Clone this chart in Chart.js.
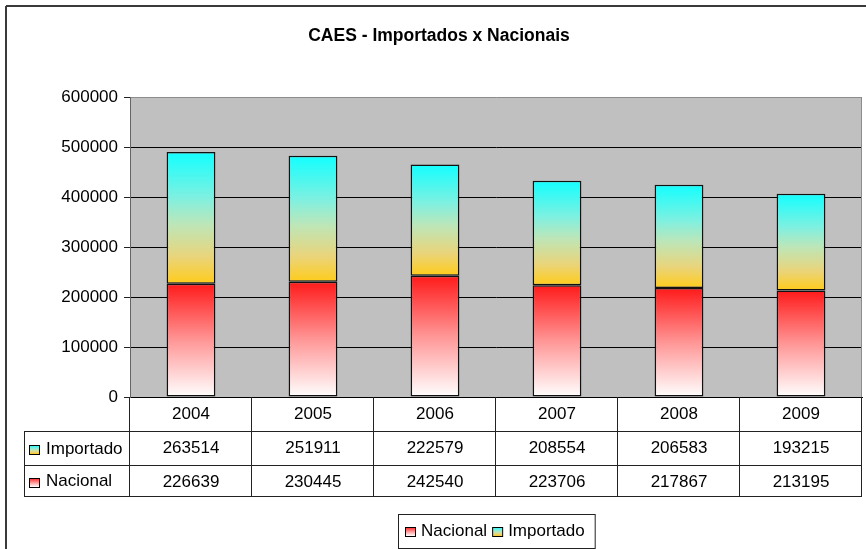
<!DOCTYPE html>
<html>
<head>
<meta charset="utf-8">
<title>CAES - Importados x Nacionais</title>
<script src="https://cdn.jsdelivr.net/npm/chart.js@4/dist/chart.umd.min.js"></script>
<style>
  body { margin: 0; background: #fff; }
  #wrap { width: 866px; height: 549px; }
</style>
</head>
<body>
<div id="wrap"><canvas id="caesChart" width="866" height="549"></canvas></div>
<script>
// dados do grafico
const categories = ['2004', '2005', '2006', '2007', '2008', '2009'];
const nacional = [226639, 230445, 242540, 223706, 217867, 213195];
const importado = [263514, 251911, 222579, 208554, 206583, 193215];
const seriesNames = ['Nacional', 'Importado'];
const yMax = 600000;
const yStep = 100000;

const FONT = '"Liberation Sans", Arial, Helvetica, sans-serif';

// gradientes das barras
function nacionalFill(ctx, top, bottom) {
  const g = ctx.createLinearGradient(0, top, 0, bottom);
  g.addColorStop(0, '#ff1a1a');
  g.addColorStop(0.5, '#ff9696');
  g.addColorStop(1, '#ffffff');
  return g;
}
function importadoFill(ctx, top, bottom) {
  const g = ctx.createLinearGradient(0, top, 0, bottom);
  g.addColorStop(0, '#12ffff');
  g.addColorStop(0.35, '#80f0e0');
  g.addColorStop(0.55, '#bde6b8');
  g.addColorStop(0.8, '#ead47a');
  g.addColorStop(1, '#ffcc1a');
  return g;
}
const fills = [nacionalFill, importadoFill];

function line(ctx, x1, y1, x2, y2) {
  ctx.beginPath();
  ctx.moveTo(x1, y1);
  ctx.lineTo(x2, y2);
  ctx.stroke();
}

// gradiente de uma barra, a partir da escala y
function barFill(c, seriesIndex, fallback) {
  const y = c.chart.scales.y;
  const i = c.dataIndex;
  if (!y || i === undefined) return fallback;
  const base = seriesIndex === 0 ? 0 : nacional[i];
  const end = seriesIndex === 0 ? nacional[i] : nacional[i] + importado[i];
  const top = y.getPixelForValue(end);
  const bottom = y.getPixelForValue(base);
  if (!isFinite(top) || !isFinite(bottom) || top === bottom) return fallback;
  return fills[seriesIndex](c.chart.ctx, top, bottom);
}

// fundo cinza, moldura e tabela de dados / legenda
const caesPlugin = {
  id: 'caes',
  beforeDraw(chart) {
    const ctx = chart.ctx;
    const a = chart.chartArea;
    ctx.save();
    ctx.fillStyle = '#c0c0c0';
    ctx.fillRect(a.left, a.top, a.right - a.left, a.bottom - a.top);
    // moldura externa
    ctx.strokeStyle = '#3a3a3a';
    ctx.lineWidth = 2;
    line(ctx, 6, 6, 6, chart.height + 2);
    line(ctx, 6, 6, chart.width + 2, 6);
    ctx.restore();
  },
  beforeDatasetsDraw(chart) {
    const ctx = chart.ctx;
    const a = chart.chartArea;
    ctx.save();
    ctx.strokeStyle = '#8c8c8c';
    ctx.lineWidth = 1;
    line(ctx, Math.round(a.right) - 0.5, a.top, Math.round(a.right) - 0.5, a.bottom);
    ctx.restore();
  },
  afterDraw(chart) {
    const ctx = chart.ctx;
    const x = chart.scales.x;
    const a = chart.chartArea;
    const top = Math.round(x.top);
    const rows = [top + 34, top + 68, top + 99];
    const tableLeft = 24;
    const step = (x.right - x.left) / categories.length;

    ctx.save();
    ctx.strokeStyle = '#222';
    ctx.lineWidth = 1;
    rows.forEach(function(r) { line(ctx, tableLeft, r + 0.5, x.right, r + 0.5); });
    line(ctx, tableLeft + 0.5, rows[0], tableLeft + 0.5, rows[2] + 1);
    for (let k = 0; k <= categories.length; k++) {
      const px = Math.round(x.left + k * step) - 0.5;
      line(ctx, px, top, px, rows[2] + 1);
    }

    // rotulos das linhas da tabela
    ctx.font = '17px ' + FONT;
    ctx.fillStyle = '#000';
    ctx.textBaseline = 'middle';
    ctx.textAlign = 'left';
    const rowLabels = [
      { name: seriesNames[1], fill: fills[1], mid: (rows[0] + rows[1]) / 2 + 1 },
      { name: seriesNames[0], fill: fills[0], mid: (rows[1] + rows[2]) / 2 + 1 }
    ];
    rowLabels.forEach(function(r) {
      const ky = Math.round(r.mid - 4);
      ctx.fillStyle = r.fill(ctx, ky, ky + 9);
      ctx.fillRect(29, ky, 10, 9);
      ctx.strokeStyle = '#000';
      ctx.strokeRect(29.5, ky + 0.5, 10, 9);
      ctx.fillStyle = '#000';
      ctx.fillText(r.name, 46, r.mid);
    });

    // legenda
    const keyW = 10, keyH = 9;
    let width = 7;
    seriesNames.forEach(function(n, i) {
      width += keyW + 6 + ctx.measureText(n).width + (i < seriesNames.length - 1 ? 5 : 10);
    });
    const boxLeft = Math.round((a.left + a.right) / 2 - width / 2);
    const boxTop = 514;
    ctx.strokeStyle = '#222';
    ctx.strokeRect(boxLeft + 0.5, boxTop + 0.5, width, 34);
    let cx = boxLeft + 7;
    const midY = boxTop + 17;
    seriesNames.forEach(function(n, i) {
      const ky = midY - 4;
      ctx.fillStyle = fills[i](ctx, ky, ky + keyH);
      ctx.fillRect(cx, ky, keyW, keyH);
      ctx.strokeStyle = '#000';
      ctx.strokeRect(cx + 0.5, ky + 0.5, keyW, keyH);
      cx += keyW + 6;
      ctx.fillStyle = '#000';
      ctx.fillText(n, cx, midY);
      cx += ctx.measureText(n).width + 5;
    });
    ctx.restore();
  }
};

const ctx = document.getElementById('caesChart').getContext('2d');

new Chart(ctx, {
  type: 'bar',
  data: {
    labels: categories,
    datasets: [
      {
        label: seriesNames[0],
        data: nacional,
        backgroundColor: function(c) { return barFill(c, 0, '#ff8080'); }
      },
      {
        label: seriesNames[1],
        data: importado,
        backgroundColor: function(c) { return barFill(c, 1, '#80e0c0'); }
      }
    ]
  },
  options: {
    responsive: false,
    animation: false,
    layout: { padding: { left: 16, right: 4, top: 0, bottom: 50 } },
    datasets: {
      bar: {
        barPercentage: 0.4,
        categoryPercentage: 1,
        borderColor: '#111',
        borderWidth: 1.5,
        borderSkipped: false
      }
    },
    plugins: {
      legend: { display: false },
      tooltip: { enabled: false },
      title: {
        display: true,
        text: 'CAES - Importados x Nacionais',
        color: '#000',
        font: { family: FONT, size: 17.5, weight: 'bold' },
        padding: { top: 26, bottom: 50 }
      }
    },
    scales: {
      x: {
        stacked: true,
        grid: { display: false, drawTicks: false },
        border: { display: true, color: '#000', width: 1 },
        ticks: {
          color: '#000',
          padding: 0,
          maxRotation: 0,
          autoSkip: false,
          font: { family: FONT, size: 17, lineHeight: '34px' },
          callback: function(value, index) {
            return [categories[index], String(importado[index]), String(nacional[index])];
          }
        },
        afterFit: function(scale) { scale.height = 102; }
      },
      y: {
        stacked: true,
        min: 0,
        max: yMax,
        grid: {
          color: function(c) { return c.tick && c.tick.value === yMax ? '#8c8c8c' : '#000'; },
          tickColor: '#222',
          tickLength: 6,
          lineWidth: 1
        },
        border: { display: true, color: '#666', width: 1 },
        ticks: {
          stepSize: yStep,
          color: '#000',
          padding: 6,
          font: { family: FONT, size: 17 },
          callback: function(v) { return String(v); }
        },
        afterFit: function(scale) { scale.width = 114; }
      }
    }
  },
  plugins: [caesPlugin]
});
</script>
</body>
</html>
